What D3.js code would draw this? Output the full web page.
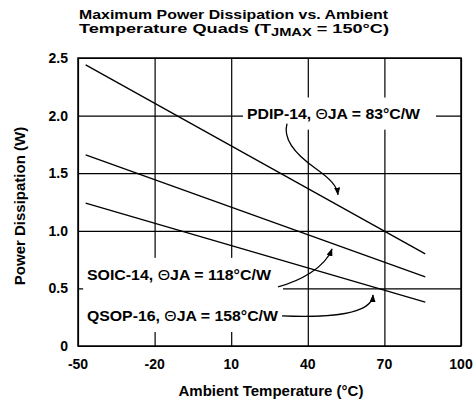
<!DOCTYPE html>
<html>
<head>
<meta charset="utf-8">
<script src="https://cdn.jsdelivr.net/npm/d3@7"></script>
<style>
  html, body { margin: 0; padding: 0; background: #fff; }
  svg text { font-family: "Liberation Sans", Arial, Helvetica, sans-serif; font-weight: bold; fill: #000; }
</style>
</head>
<body>
<svg id="chart" width="474" height="402"></svg>
<script>
// ---- data ----
const xTicks = [-50, -20, 10, 40, 70, 100];
const yTicks = [0, 0.5, 1.0, 1.5, 2.0, 2.5];
const yTickLabels = ["0", "0.5", "1.0", "1.5", "2.0", "2.5"];
const tempRange = [-47, 86];          // ambient temperature (°C) at line ends
const pdip14 = [2.44, 0.80];          // W
const soic14 = [1.66, 0.60];          // W
const qsop16 = [1.24, 0.38];          // W
const seriesNames = ["PDIP-14", "SOIC-14", "QSOP-16"];
const thetaJA = ["83", "118", "158"];

const svg = d3.select("#chart");
const m = { left: 78, right: 461, top: 58, bottom: 346 };
const x = d3.scaleLinear().domain([-50, 100]).range([m.left, m.right]);
const y = d3.scaleLinear().domain([0, 2.5]).range([m.bottom, m.top]);

// ---- grid via axes ----
const gx = svg.append("g").attr("transform", `translate(0,${m.bottom})`)
  .call(d3.axisBottom(x).tickValues(xTicks).tickSize(-(m.bottom - m.top)).tickPadding(0).tickFormat(""));
const gy = svg.append("g").attr("transform", `translate(${m.left},0)`)
  .call(d3.axisLeft(y).tickValues(yTicks).tickSize(-(m.right - m.left)).tickPadding(0).tickFormat(""));
[gx, gy].forEach(g => {
  g.select(".domain").remove();
  g.selectAll(".tick line").attr("stroke", "#000").attr("stroke-width", 1.2);
});

// gaps in grid behind annotation labels
const gaps = [
  { t0: 14.6, t1: 90.2, w0: 1.878, w1: 2.157 },
  { t0: -48.0, t1: 30.3, w0: 0.122, w1: 0.765 }
];
svg.selectAll("rect.gap").data(gaps).join("rect").attr("class", "gap")
  .attr("x", d => x(d.t0)).attr("y", d => y(d.w1))
  .attr("width", d => x(d.t1) - x(d.t0)).attr("height", d => y(d.w0) - y(d.w1))
  .attr("fill", "#fff");

// frame
svg.append("rect").attr("x", m.left).attr("y", m.top)
  .attr("width", m.right - m.left).attr("height", m.bottom - m.top)
  .attr("fill", "none").attr("stroke", "#000").attr("stroke-width", 1.5);

// tick labels
svg.selectAll("text.xt").data(xTicks).join("text").attr("class", "xt")
  .attr("x", d => x(d)).attr("y", 369).attr("text-anchor", "middle")
  .attr("font-size", 14).text(d => d);
svg.selectAll("text.yt").data(yTicks).join("text").attr("class", "yt")
  .attr("x", 68).attr("y", d => y(d)).attr("dy", "0.36em").attr("text-anchor", "end")
  .attr("font-size", 14).text((d, i) => yTickLabels[i]);

// ---- data lines ----
const line = d3.line().x(d => x(d[0])).y(d => y(d[1]));
const series = [pdip14, soic14, qsop16];
svg.selectAll("path.series").data(series).join("path").attr("class", "series")
  .attr("d", s => line(tempRange.map((t, i) => [t, s[i]])))
  .attr("fill", "none").attr("stroke", "#000").attr("stroke-width", 1.3);

// ---- annotations ----
svg.append("defs").append("marker").attr("id", "arr")
  .attr("viewBox", "0 0 10 10").attr("refX", 9).attr("refY", 5)
  .attr("markerWidth", 8).attr("markerHeight", 6).attr("markerUnits", "userSpaceOnUse")
  .attr("orient", "auto").attr("preserveAspectRatio", "none")
  .append("path").attr("d", "M0,0 L10,5 L0,10 Z").attr("fill", "#000");

const labels = [
  { t: 16.2, w: 1.974, len: 173 },
  { t: -46.5, w: 0.574, len: 184 },
  { t: -46.5, w: 0.217, len: 191 }
];
labels.forEach((l, i) => {
  const tx = svg.append("text").attr("x", x(l.t)).attr("y", y(l.w))
    .attr("font-size", 15.5).attr("textLength", l.len).attr("lengthAdjust", "spacingAndGlyphs");
  tx.append("tspan").text(seriesNames[i] + ", ");
  tx.append("tspan").attr("font-weight", "normal").text("\u0398");
  tx.append("tspan").text("JA = " + thetaJA[i] + "\u00B0C/W");
});

const arrows = [
  [[31.85, 1.930], [29.89, 1.774], [36.94, 1.635], [43.21, 1.539], [48.69, 1.452], [51.43, 1.391], [51.82, 1.313]],
  [[28.33, 0.513], [36.94, 0.565], [46.73, 0.678], [49.47, 0.843]],
  [[29.89, 0.261], [48.69, 0.243], [65.14, 0.278], [65.53, 0.443]]
];
arrows.forEach(a => {
  const p = a.map(d => [x(d[0]), y(d[1])]);
  let d = `M${p[0]}`;
  for (let i = 1; i + 2 < p.length; i += 3) d += ` C${p[i]} ${p[i + 1]} ${p[i + 2]}`;
  svg.append("path").attr("d", d).attr("fill", "none").attr("stroke", "#000")
    .attr("stroke-width", 1.3).attr("marker-end", "url(#arr)");
});

// ---- titles ----
svg.append("text").attr("x", 79).attr("y", 18.5).attr("font-size", 13)
  .attr("textLength", 309).attr("lengthAdjust", "spacingAndGlyphs")
  .text("Maximum Power Dissipation vs. Ambient");
const t2 = svg.append("text").attr("x", 79).attr("y", 33).attr("font-size", 13)
  .attr("textLength", 310).attr("lengthAdjust", "spacingAndGlyphs");
t2.append("tspan").text("Temperature Quads (T");
t2.append("tspan").attr("font-size", 10.5).attr("dy", 3).text("JMAX");
t2.append("tspan").attr("dy", -3).text(" = 150\u00B0C)");

svg.append("text").attr("x", 271).attr("y", 396).attr("text-anchor", "middle")
  .attr("font-size", 15).text("Ambient Temperature (\u00B0C)");
svg.append("text").attr("transform", "translate(25,206) rotate(-90)")
  .attr("text-anchor", "middle").attr("font-size", 15).text("Power Dissipation (W)");
</script>
</body>
</html>
